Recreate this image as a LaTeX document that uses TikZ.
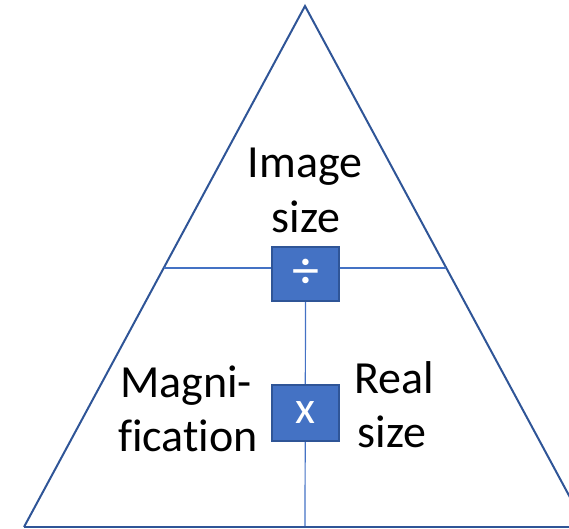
\documentclass[tikz,border=0pt]{standalone}
\usepackage{fontspec}
\setmainfont[Ligatures=NoCommon]{Carlito}
\definecolor{darkblue}{HTML}{2F5597}
\definecolor{midblue}{HTML}{4472C4}
\tikzset{
  tri/.style={draw=darkblue, line width=2pt, line join=miter},
  inner/.style={draw=midblue, line width=1.2pt},
  opbox/.style={draw=darkblue, fill=midblue, line width=2pt, minimum width=67pt, minimum height=54pt, inner sep=0pt, text=white},
  lbl/.style={font=\fontsize{46}{56}\selectfont, anchor=base, inner sep=0pt}
}
\begin{document}
\begin{tikzpicture}[x=1pt,y=-1pt]
\useasboundingbox (0,0) rectangle (569,528);
\coordinate (apex) at (305,6);
\coordinate (bl) at (24,527);
\coordinate (br) at (586,527);
\coordinate (hl) at (164,268);
\coordinate (hr) at (446,268);
\coordinate (vb) at (305,527);
\draw[tri] (bl) -- (apex) -- (br);
\draw[inner] (hl) -- (hr);
\node[opbox, font=\fontsize{54}{60}\selectfont] (div) at (305.5,274) {÷};
\draw[inner] (div.south) -- (vb);
\draw[darkblue, line width=1.5pt] (bl) -- (br);
\node[opbox, minimum height=56pt, font=\fontsize{46}{52}\selectfont] (mul) at (305.5,413) {x};
\node[lbl] (img1) at (305,177) {Image};
\node[lbl] (img2) at (306,232) {size};
\node[lbl] (mag1) at (186,397) {Magni-};
\node[lbl] (mag2) at (188,451) {fication};
\node[lbl] (real1) at (394.5,393) {Real};
\node[lbl] (real2) at (392,447) {size};
\end{tikzpicture}
\end{document}
